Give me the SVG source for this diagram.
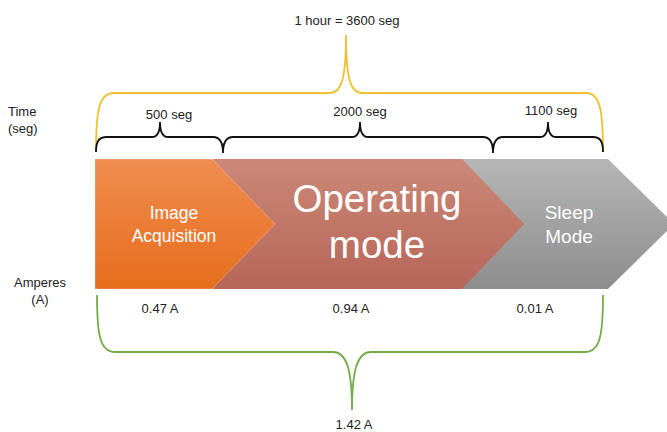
<svg xmlns="http://www.w3.org/2000/svg" width="667" height="432" viewBox="0 0 667 432">
<defs>
<linearGradient id="gO" x1="0" y1="0" x2="0" y2="1"><stop offset="0" stop-color="#f08c50"/><stop offset="1" stop-color="#e66e1c"/></linearGradient>
<linearGradient id="gB" x1="0" y1="0" x2="0" y2="1"><stop offset="0" stop-color="#cb8878"/><stop offset="1" stop-color="#b66658"/></linearGradient>
<linearGradient id="gG" x1="0" y1="0" x2="0" y2="1"><stop offset="0" stop-color="#b6b6b6"/><stop offset="1" stop-color="#8d8d8d"/></linearGradient>
</defs>
<style>
text{font-family:"Liberation Sans","Open Sans",sans-serif;fill:#222;font-size:13px}
.c{text-anchor:middle}
.w{fill:#fff;text-anchor:middle}
.s17{font-size:17.5px}
.s18{font-size:19px}
.s36{font-size:38.5px}
.br{fill:none;stroke-width:1.8}
</style>
<g id="connectors">
<path class="br" stroke="#f0c030" d="M96,152 C96,110 99,93 114,93 L330,93 C341,93 346,80 346,35 C346,80 351,93 362,93 L586,93 C600,93 603,110 603,152"/>
<path class="br" stroke="#111" d="M96,152 C96,141 99,137 107,137 L152,137 C158,137 160,132 160,122 C160,132 162,137 168,137 L213,137 C220,137 223,142 223,153 C223,142 226,137 233,137 L352,137 C358,137 360,132 360,122 C360,132 362,137 368,137 L483,137 C490,137 493,142 493,153 C493,142 496,137 503,137 L540,137 C546,137 548,132 548,122 C548,132 550,137 556,137 L593,137 C600,137 603,141 603,152"/>
<path class="br" stroke="#72ad4a" d="M97,295 C97,335 100,352 115,352 L333,352 C346,352 352,368 352,410 C352,368 358,352 371,352 L585,352 C600,352 603,335 603,295"/>
</g>
<g id="sleep"><polygon points="462,159 608,159 674,224 608,289 462,289" fill="url(#gG)"/><text class="w s18" x="569" y="219">Sleep</text><text class="w s18" x="569" y="243">Mode</text></g>
<g id="operating"><polygon points="213,159 462,159 524,224 462,289 213,289" fill="url(#gB)"/><text class="w s36" x="377" y="212">Operating</text><text class="w s36" x="377" y="258">mode</text></g>
<g id="image"><polygon points="95,159 212,159 275,224 212,289 95,289" fill="url(#gO)" stroke="#fff" stroke-opacity="0.35" stroke-width="0.8"/><text class="w s17" x="174" y="219">Image</text><text class="w s17" x="174" y="242">Acquisition</text></g>
<g id="labels">
<text class="c" x="347" y="25">1 hour = 3600 seg</text>
<text x="8" y="116">Time</text><text x="8" y="133">(seg)</text>
<text class="c" x="169" y="119">500 seg</text>
<text class="c" x="360" y="116">2000 seg</text>
<text class="c" x="551" y="115">1100 seg</text>
<text class="c" x="40" y="287">Amperes</text><text class="c" x="40" y="304">(A)</text>
<text class="c" x="160" y="313">0.47 A</text>
<text class="c" x="351" y="313">0.94 A</text>
<text class="c" x="535" y="313">0.01 A</text>
<text class="c" x="354" y="429">1.42 A</text>
</g>
</svg>
